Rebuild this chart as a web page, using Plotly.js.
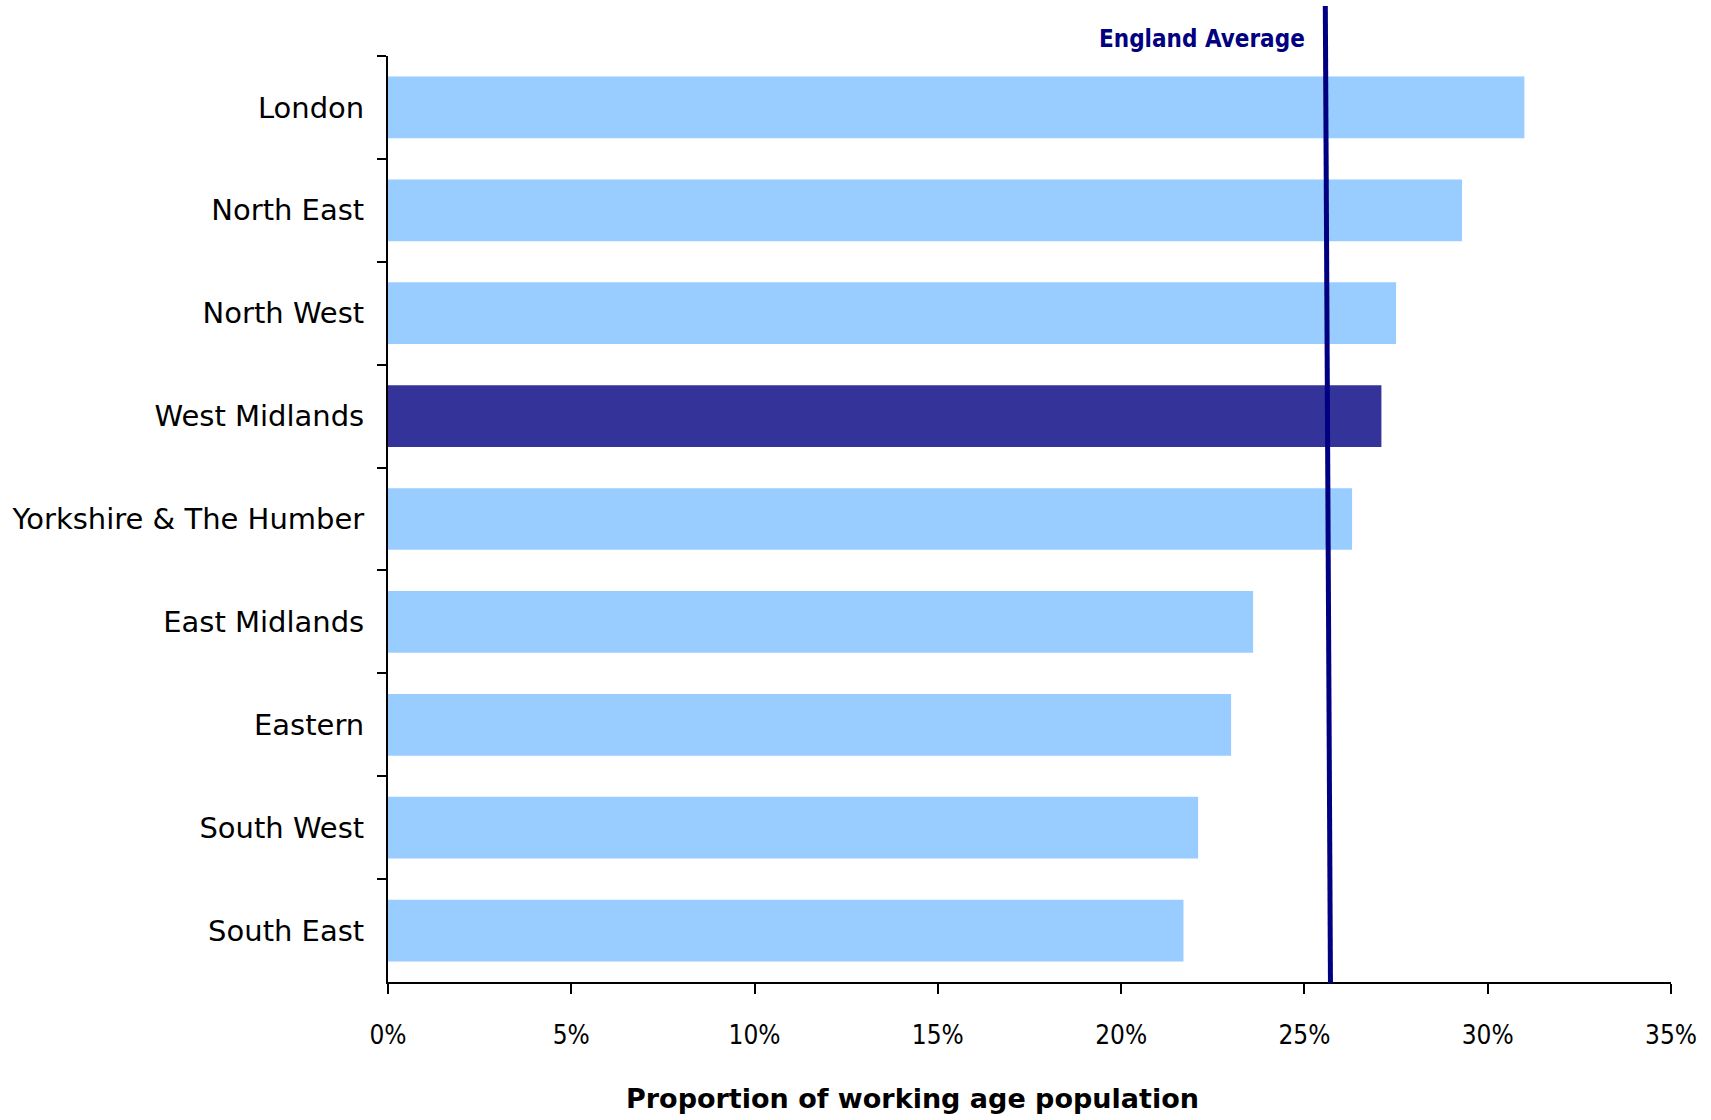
<!DOCTYPE html>
<html>
<head>
<meta charset="utf-8">
<script src="https://cdn.plot.ly/plotly-3.0.1.min.js"></script>
<style>html,body{margin:0;padding:0;background:#fff;}#chart{width:1711px;height:1120px;}</style>
</head>
<body>
<div id="chart"></div>
<script>
const regions = ["London", "North East", "North West", "West Midlands", "Yorkshire & The Humber", "East Midlands", "Eastern", "South West", "South East"];
const proportion = [31.0, 29.3, 27.5, 27.1, 26.3, 23.6, 23.0, 22.1, 21.7];
const highlightRegion = "West Midlands";
const englandAverageLine = [25.71, 25.57]; // bottom, top of the drawn line
const englandAverageLabel = "England Average";
const xTicks = [0, 5, 10, 15, 20, 25, 30, 35];
const xTitle = "Proportion of working age population";

const FONT_C = "'DejaVu Sans Condensed', 'DejaVu Sans', sans-serif";
const FONT = "'DejaVu Sans', sans-serif";
const colors = regions.map(r => r === highlightRegion ? "#333399" : "#99CCFF");

const trace = {
  type: "bar",
  orientation: "h",
  y: regions,
  x: proportion,
  marker: {color: colors, line: {width: 0}},
  width: 0.6,
  hoverinfo: "x+y"
};

const layout = {
  width: 1711,
  height: 1120,
  margin: {l: 388, r: 40, t: 56, b: 138},
  paper_bgcolor: "#ffffff",
  plot_bgcolor: "#ffffff",
  showlegend: false,
  font: {family: FONT, color: "#000000", size: 28},
  xaxis: {
    range: [0, 35],
    tickvals: xTicks,
    ticktext: xTicks.map(v => v + "%"),
    ticks: "outside",
    ticklen: 10,
    tickwidth: 2,
    tickcolor: "#000",
    showline: true,
    linecolor: "#000",
    linewidth: 2,
    showgrid: false,
    zeroline: false,
    tickfont: {family: FONT_C, size: 26, color: "#000"},
    ticklabelstandoff: 19
  },
  yaxis: {
    type: "category",
    autorange: false,
    range: [8.5, -0.5],
    tickson: "boundaries",
    ticks: "outside",
    ticklen: 9,
    tickwidth: 2,
    tickcolor: "#000",
    showline: true,
    linecolor: "#000",
    linewidth: 2,
    showgrid: false,
    zeroline: false,
    tickfont: {family: FONT, size: 29, color: "#000"},
    ticklabelstandoff: 16
  },
  shapes: [{
    type: "line",
    xref: "x", yref: "paper",
    x0: englandAverageLine[0], x1: englandAverageLine[1],
    y0: -0.001, y1: 1.054,
    line: {color: "#000080", width: 5}
  }],
  annotations: [{
    xref: "x", yref: "paper",
    x: englandAverageLine[1], y: 1.018,
    xanchor: "right", yanchor: "middle",
    xshift: -18,
    showarrow: false,
    text: englandAverageLabel,
    font: {family: FONT_C, size: 24, color: "#000080", weight: "bold"}
  }, {
    xref: "paper", yref: "paper",
    x: 0.409, y: -0.126,
    xanchor: "center", yanchor: "middle",
    showarrow: false,
    text: xTitle,
    font: {family: FONT, size: 27, color: "#000", weight: "bold"}
  }]
};

Plotly.newPlot("chart", [trace], layout, {displayModeBar: false, staticPlot: true});
</script>
</body>
</html>
